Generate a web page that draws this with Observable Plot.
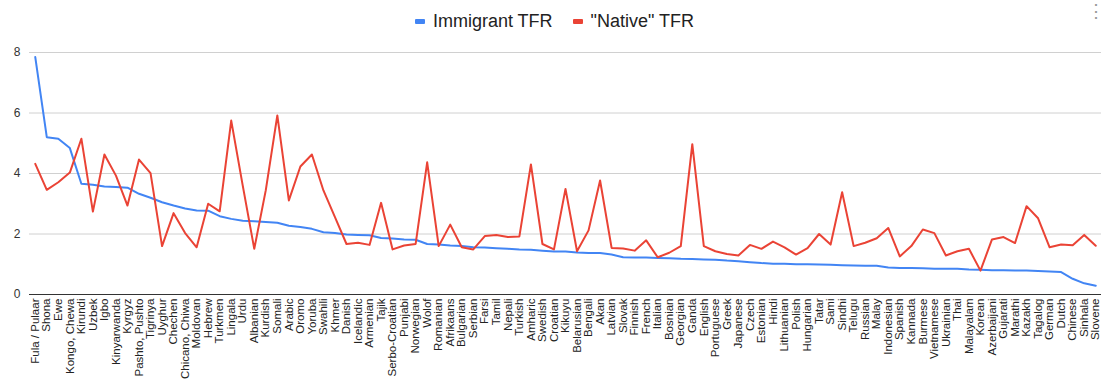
<!DOCTYPE html>
<html>
<head>
<meta charset="utf-8">
<script src="https://cdn.jsdelivr.net/npm/d3@7"></script>
<script src="https://cdn.jsdelivr.net/npm/@observablehq/plot@0.6"></script>
<style>
  html, body { margin: 0; padding: 0; background: #fff; }
  body { width: 1109px; height: 382px; overflow: hidden; font-family: "Liberation Sans", Arial, sans-serif; position: relative; }
  #legend { height: 40px; display: flex; justify-content: center; align-items: center; gap: 0; font-size: 18px; color: #222; padding-top: 2px; box-sizing: border-box; }
  .item { display: flex; align-items: center; margin: 0 10px; }
  .sw { width: 10px; height: 5px; border-radius: 1px; margin-right: 8px; }
  #menu { position: absolute; right: 4px; top: 2px; color: #999; font-size: 18px; line-height: 1; }
</style>
</head>
<body>
<div id="menu">⋮</div>
<div id="legend"></div>
<div id="chart"></div>
<script>
const categories = ["Fula / Pulaar","Shona","Ewe","Kongo, Chewa","Kirundi","Uzbek","Igbo","Kinyarwanda","Kyrgyz","Pashto, Pushto","Tigrinya","Uyghur","Chechen","Chicano, Chiwa","Moldovan","Hebrew","Turkmen","Lingala","Urdu","Albanian","Kurdish","Somali","Arabic","Oromo","Yoruba","Swahili","Khmer","Danish","Icelandic","Armenian","Tajik","Serbo-Croatian","Punjabi","Norwegian","Wolof","Romanian","Afrikaans","Bulgarian","Serbian","Farsi","Tamil","Nepali","Turkish","Amharic","Swedish","Croatian","Kikuyu","Belarusian","Bengali","Akan","Latvian","Slovak","Finnish","French","Italian","Bosnian","Georgian","Ganda","English","Portuguese","Greek","Japanese","Czech","Estonian","Hindi","Lithuanian","Polish","Hungarian","Tatar","Sami","Sindhi","Telugu","Russian","Malay","Indonesian","Spanish","Kannada","Burmese","Vietnamese","Ukrainian","Thai","Malayalam","Korean","Azerbaijani","Gujarati","Marathi","Kazakh","Tagalog","German","Dutch","Chinese","Sinhala","Slovene"];

const immigrantTFR = [7.85,5.20,5.15,4.84,3.66,3.63,3.57,3.55,3.53,3.33,3.20,3.05,2.94,2.84,2.78,2.77,2.59,2.50,2.44,2.42,2.40,2.37,2.27,2.23,2.17,2.06,2.03,1.98,1.97,1.96,1.87,1.85,1.82,1.81,1.67,1.65,1.62,1.60,1.56,1.55,1.53,1.51,1.49,1.48,1.45,1.42,1.42,1.39,1.37,1.37,1.32,1.23,1.22,1.22,1.21,1.20,1.18,1.17,1.16,1.15,1.12,1.10,1.07,1.04,1.02,1.02,1.00,1.00,0.99,0.98,0.97,0.96,0.95,0.95,0.89,0.88,0.88,0.87,0.85,0.85,0.85,0.83,0.82,0.80,0.80,0.79,0.79,0.78,0.76,0.74,0.52,0.37,0.29];

const nativeTFR = [4.32,3.46,3.71,4.03,5.15,2.74,4.63,3.93,2.94,4.46,4.01,1.60,2.69,2.03,1.56,3.00,2.75,5.75,3.60,1.51,3.45,5.92,3.11,4.23,4.63,3.44,2.56,1.67,1.71,1.64,3.03,1.49,1.62,1.67,4.37,1.60,2.31,1.56,1.49,1.93,1.97,1.90,1.92,4.30,1.67,1.49,3.49,1.43,2.12,3.77,1.54,1.52,1.45,1.79,1.23,1.38,1.60,4.97,1.60,1.43,1.34,1.29,1.64,1.51,1.75,1.56,1.32,1.53,2.00,1.65,3.38,1.60,1.71,1.86,2.20,1.26,1.60,2.15,2.03,1.29,1.43,1.51,0.79,1.82,1.90,1.70,2.92,2.52,1.56,1.65,1.63,1.97,1.61];

const seriesNames = ["Immigrant TFR", "\"Native\" TFR"];
const seriesColors = ["#4285f4", "#ea4335"];
const yTicks = [0, 2, 4, 6, 8];

// legend
const legend = document.getElementById("legend");
seriesNames.forEach((n, i) => {
  const it = document.createElement("div");
  it.className = "item";
  const sw = document.createElement("div");
  sw.className = "sw";
  sw.style.background = seriesColors[i];
  const t = document.createElement("span");
  t.textContent = n;
  it.appendChild(sw); it.appendChild(t);
  legend.appendChild(it);
});

const immRows = categories.map((c, i) => ({language: c, value: immigrantTFR[i]}));
const natRows = categories.map((c, i) => ({language: c, value: nativeTFR[i]}));

const chart = Plot.plot({
  width: 1109,
  height: 342,
  marginTop: 12,
  marginBottom: 88,
  marginLeft: 29,
  marginRight: 8,
  style: {fontFamily: "'Liberation Sans', Arial, sans-serif", fontSize: "11.5px", color: "#222", background: "#fff", overflow: "visible"},
  x: {type: "point", domain: categories, padding: 0.5, label: null},
  y: {domain: [0, 8], label: null},
  marks: [
    Plot.ruleY(yTicks.filter(d => d > 0), {stroke: "#d0d0d0", strokeOpacity: 1}),
    Plot.ruleY([0], {stroke: "#333", strokeOpacity: 1}),
    Plot.axisY({ticks: yTicks, tickSize: 0, tickPadding: 9, fontSize: 12, label: null, color: "#333"}),
    Plot.axisX({tickSize: 0, tickRotate: -90, tickPadding: 4, label: null}),
    Plot.line(immRows, {x: "language", y: "value", stroke: seriesColors[0], strokeWidth: 2}),
    Plot.line(natRows, {x: "language", y: "value", stroke: seriesColors[1], strokeWidth: 2})
  ]
});
document.getElementById("chart").appendChild(chart);
</script>
</body>
</html>
